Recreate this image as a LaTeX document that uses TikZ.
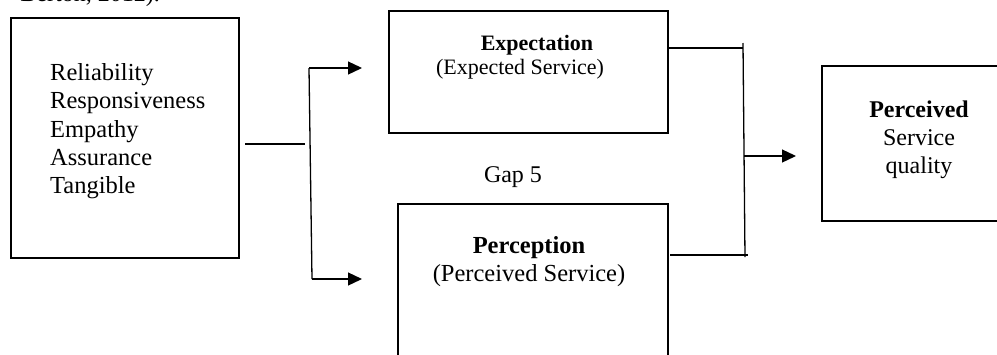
\documentclass[tikz,border=0pt]{standalone}
\usepackage{fontspec}
\setmainfont{Liberation Serif}
\usetikzlibrary{arrows.meta, positioning}

\begin{document}
\begin{tikzpicture}[
    x=1pt, y=-1pt,
    every node/.style={font=\fontsize{24}{28}\selectfont, inner sep=0pt},
    box/.style={draw, line width=2pt, anchor=north west},
    link/.style={line width=1.3pt},
    pfeil/.style={link, -{Triangle[length=14pt, width=13pt]}},
  ]
  \clip (0,0) rectangle (997,354);

  % Rest der Zeile darueber
  \node[anchor=base east] (quelle) at (160,1) {Berton, 2012).};

  % Kaesten
  \node[box, minimum width=228, minimum height=240] (dims) at (10,17) {};
  \node[box, minimum width=279, minimum height=122] (erw)  at (388,10) {};
  \node[box, minimum width=270, minimum height=200] (wahr) at (397,203) {};
  \node[box, minimum width=200, minimum height=155] (qual) at (821,65) {};

  % Dimensionen
  \foreach \wort [count=\i] in {Reliability, Responsiveness, Empathy, Assurance, Tangible}
    \node[anchor=base west, font=\fontsize{24.5}{28}\selectfont] (dim\i) at (50, {80.7+28.15*(\i-1)}) {\wort};

  \node[anchor=base, font=\fontsize{22}{26}\selectfont\bfseries] (erwT) at (537,50) {Expectation};
  \node[anchor=base, font=\fontsize{22}{26}\selectfont] (erwU) at (520,74) {(Expected Service)};
  \node[anchor=base] (gap) at (513,182) {Gap 5};
  \node[anchor=base, font=\fontsize{24.5}{28}\selectfont\bfseries] (wahrT) at (529,253) {Perception};
  \node[anchor=base, font=\fontsize{24.5}{28}\selectfont] (wahrU) at (529,281) {(Perceived Service)};
  \node[anchor=base, font=\fontsize{24}{28}\selectfont\bfseries] (qualT) at (919,117) {Perceived};
  \node[anchor=base] (qualM) at (919,145) {Service};
  \node[anchor=base] (qualU) at (919,173) {quality};

  % Verzweigung links
  \coordinate (ausL) at (245,144);
  \coordinate (stummel) at (305,144);
  \coordinate (gabelO) at (309,68);
  \coordinate (gabelU) at (312,279);
  \coordinate (zielE) at (362,68);
  \coordinate (zielW) at (362,279);
  \draw[link] (ausL) -- (stummel);
  \draw[link] (gabelO) -- (gabelU);
  \draw[pfeil] (gabelO) -- (zielE);
  \draw[pfeil] (gabelU) -- (zielW);

  % Zusammenfuehrung rechts
  \coordinate (ausE) at (667,48);
  \coordinate (ausW) at (670,255);
  \coordinate (sammelO) at (743,43);
  \coordinate (sammelU) at (745,257);
  \coordinate (mitte) at (744,156);
  \coordinate (zielQ) at (796,156);
  \draw[link] (ausE) -- (ausE -| sammelO);
  \draw[link] (ausW) -- (748,255);
  \draw[link] (sammelO) -- (sammelU);
  \draw[pfeil] (mitte) -- (zielQ);
\end{tikzpicture}
\end{document}
